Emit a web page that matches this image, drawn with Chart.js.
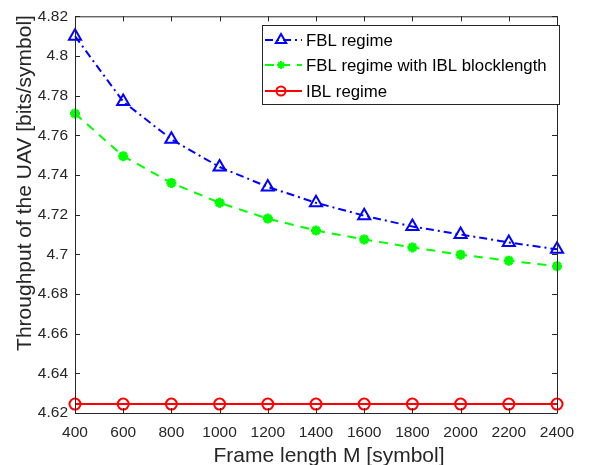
<!DOCTYPE html>
<html>
<head>
<meta charset="utf-8">
<script src="https://cdn.jsdelivr.net/npm/chart.js@4.4.1/dist/chart.umd.min.js"></script>
<style>
  html, body { margin: 0; padding: 0; background: #fff; }
  #wrap { width: 594px; height: 465px; }
</style>
</head>
<body>
<div id="wrap"><canvas id="chart" width="594" height="465"></canvas></div>
<script>
// data
const frameLengths = [400, 600, 800, 1000, 1200, 1400, 1600, 1800, 2000, 2200, 2400]
const fblRegime = [4.810, 4.777, 4.758, 4.744, 4.734, 4.726, 4.7195, 4.714, 4.710, 4.706, 4.7025]
const fblWithIbl = [4.771, 4.7495, 4.736, 4.726, 4.718, 4.712, 4.7075, 4.7035, 4.6998, 4.6968, 4.694]
const iblRegime = [4.6245, 4.6245, 4.6245, 4.6245, 4.6245, 4.6245, 4.6245, 4.6245, 4.6245, 4.6245, 4.6245]
const yTicks = [4.62, 4.64, 4.66, 4.68, 4.7, 4.72, 4.74, 4.76, 4.78, 4.8, 4.82]
const xTitle = 'Frame length M [symbol]'
const yTitle = 'Throughput of the UAV [bits/symbol]'

const axisColor = '#262626'
const fontFam = 'Arial, "Liberation Sans", Helvetica, sans-serif'

const toPts = arr => arr.map((v, i) => ({x: frameLengths[i], y: v}))

// matlab style box + inward ticks
const boxPlugin = {
    id: 'box',
    afterDatasetsDraw(chart){
        const ctx = chart.ctx
        const a = chart.chartArea
        const xs = chart.scales.x, ys = chart.scales.y
        ctx.save()
        ctx.strokeStyle = axisColor
        ctx.lineWidth = 1
        ctx.beginPath()
        ctx.rect(a.left + 0.5, a.top + 0.5, a.right - a.left, a.bottom - a.top)
        ctx.stroke()
        ctx.beginPath()
        frameLengths.forEach(v => {
            const px = Math.round(xs.getPixelForValue(v)) + 0.5
            ctx.moveTo(px, a.bottom); ctx.lineTo(px, a.bottom - 5)
            ctx.moveTo(px, a.top); ctx.lineTo(px, a.top + 5)
        })
        yTicks.forEach(v => {
            const py = Math.round(ys.getPixelForValue(v)) + 0.5
            ctx.moveTo(a.left, py); ctx.lineTo(a.left + 5, py)
            ctx.moveTo(a.right, py); ctx.lineTo(a.right - 5, py)
        })
        ctx.stroke()
        ctx.restore()
    }
}

// axis titles, placed like the matlab export
const titlePlugin = {
    id: 'axisTitles',
    afterDraw(chart){
        const ctx = chart.ctx
        ctx.save()
        ctx.fillStyle = axisColor
        ctx.font = '21px ' + fontFam
        ctx.textAlign = 'center'
        ctx.textBaseline = 'alphabetic'
        ctx.fillText(xTitle, 329, 462)
        ctx.translate(31, 183)
        ctx.rotate(-Math.PI / 2)
        ctx.fillText(yTitle, 0, 0)
        ctx.restore()
    }
}

// legend drawn inside the axes, top right
const legendPlugin = {
    id: 'insideLegend',
    afterDraw(chart){
        const ctx = chart.ctx
        const x0 = 262, y0 = 25, w = 297, h = 79
        ctx.save()
        ctx.fillStyle = '#fff'
        ctx.fillRect(x0, y0, w, h)
        ctx.strokeStyle = axisColor
        ctx.lineWidth = 1
        ctx.strokeRect(x0 + 0.5, y0 + 0.5, w, h)
        const rowY = [y0 + 15, y0 + 40, y0 + 66]
        chart.data.datasets.forEach((ds, i) => {
            const y = rowY[i]
            ctx.strokeStyle = ds.borderColor
            ctx.lineWidth = 2
            ctx.setLineDash(ds.borderDash || [])
            ctx.beginPath()
            ctx.moveTo(x0 + 3, y); ctx.lineTo(x0 + 40, y)
            ctx.stroke()
            ctx.setLineDash([])
            ctx.fillStyle = ds.pointBackgroundColor
            ctx.strokeStyle = ds.pointBorderColor
            Chart.helpers.drawPoint(ctx, {
                pointStyle: ds.pointStyle,
                radius: ds.pointRadius - 1,
                borderWidth: ds.pointBorderWidth || 2,
                rotation: 0
            }, x0 + 19, y)
            ctx.fillStyle = '#000'
            ctx.font = '16.8px ' + fontFam
            ctx.textBaseline = 'middle'
            ctx.fillText(ds.label, x0 + 44, y + 1)
        })
        ctx.restore()
    }
}

const config = {
    type: 'line',
    data: {
        datasets: [
            {
                label: 'FBL regime',
                data: toPts(fblRegime),
                borderColor: '#0000ff',
                backgroundColor: 'rgba(0,0,0,0)',
                borderWidth: 2,
                borderDash: [8, 4, 2, 4],
                pointStyle: 'triangle',
                pointRadius: 7,
                pointBorderWidth: 2,
                pointBackgroundColor: 'rgba(0,0,0,0)',
                pointBorderColor: '#0000ff'
            },
            {
                label: 'FBL regime with IBL blocklength',
                data: toPts(fblWithIbl),
                borderColor: '#00ff00',
                backgroundColor: '#00ff00',
                borderWidth: 2,
                borderDash: [9, 7],
                pointStyle: 'star',
                pointRadius: 5,
                pointBorderWidth: 3,
                pointBackgroundColor: '#00ff00',
                pointBorderColor: '#00ff00'
            },
            {
                label: 'IBL regime',
                data: toPts(iblRegime),
                borderColor: '#ff0000',
                backgroundColor: 'rgba(0,0,0,0)',
                borderWidth: 2,
                pointStyle: 'circle',
                pointRadius: 5.5,
                pointBorderWidth: 2,
                pointBackgroundColor: 'rgba(0,0,0,0)',
                pointBorderColor: '#ff0000'
            }
        ]
    },
    options: {
        responsive: false,
        animation: false,
        clip: false,
        layout: { padding: { top: 15, right: 37, left: 0, bottom: 0 } },
        plugins: {
            legend: { display: false },
            tooltip: { enabled: false }
        },
        scales: {
            x: {
                type: 'linear',
                min: 400,
                max: 2400,
                afterBuildTicks: s => { s.ticks = frameLengths.map(v => ({value: v})) },
                afterFit: s => { s.height = 52 },
                grid: { display: false, drawTicks: false },
                border: { display: false },
                ticks: {
                    color: axisColor,
                    font: { size: 15.5, family: fontFam },
                    padding: 10,
                    maxRotation: 0,
                    callback: v => String(v)
                },
                title: { display: false }
            },
            y: {
                min: 4.62,
                max: 4.82,
                afterBuildTicks: s => { s.ticks = yTicks.map(v => ({value: v})) },
                afterFit: s => { s.width = 75 },
                grid: { display: false, drawTicks: false },
                border: { display: false },
                ticks: {
                    color: axisColor,
                    font: { size: 15.5, family: fontFam },
                    padding: 7,
                    callback: v => String(Number(v.toFixed(2)))
                },
                title: { display: false }
            }
        }
    },
    plugins: [boxPlugin, titlePlugin, legendPlugin]
}

const myChart = new Chart(document.getElementById('chart'), config)
</script>
</body>
</html>
